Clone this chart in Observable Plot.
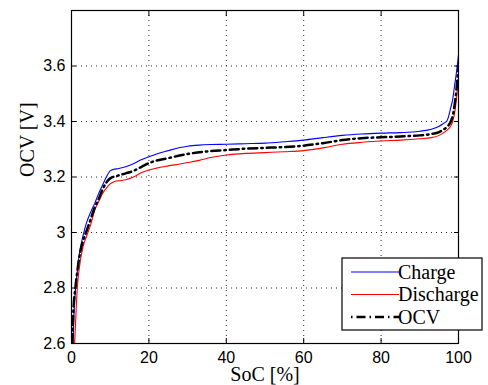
<!DOCTYPE html>
<html><head><meta charset="utf-8">
<script src="https://cdn.jsdelivr.net/npm/d3@7"></script>
<script src="https://cdn.jsdelivr.net/npm/@observablehq/plot@0.6"></script>
<style>body{margin:0;background:#fff}#chart{width:488px;height:385px}</style>
</head><body><div id="chart"></div>
<script>
const chargeSoc = [0.4,0.6,1,1.5,2,3,4,5,6,7,8,9,10,11,12,14,16,18,20,22,25,28,30,33,36,40,45,50,55,60,65,70,75,80,85,88,90,93,95,96,97,98,98.5,99,99.5,100];
const chargeV   = [2.60,2.69,2.79,2.86,2.92,2.99,3.04,3.075,3.105,3.14,3.17,3.20,3.222,3.228,3.230,3.237,3.248,3.262,3.273,3.283,3.295,3.306,3.311,3.315,3.317,3.318,3.320,3.322,3.327,3.333,3.342,3.350,3.355,3.358,3.360,3.362,3.365,3.372,3.383,3.392,3.402,3.45,3.48,3.53,3.58,3.64];
const dischSoc = [0.8,1,1.5,2,3,4,5,6,7,8,9,10,11,12,14,16,18,20,22,25,28,30,33,36,40,45,50,55,60,65,70,75,80,85,90,93,95,96,97,98,98.5,99,99.5,100];
const dischV   = [2.60,2.66,2.80,2.87,2.95,2.99,3.03,3.08,3.11,3.14,3.16,3.175,3.183,3.186,3.190,3.200,3.215,3.225,3.232,3.240,3.247,3.252,3.260,3.270,3.279,3.285,3.288,3.291,3.295,3.305,3.318,3.325,3.330,3.333,3.338,3.342,3.350,3.358,3.368,3.384,3.40,3.43,3.486,3.558];
const ocvSoc = [0.2,0.5,1,1.5,2,3,4,5,6,7,8,9,10,12,14,16,18,20,25,30,35,40,45,50,55,60,65,70,75,80,85,90,93,95,96,97,98,98.5,99,99.5,100];
const ocvV   = [2.60,2.72,2.80,2.86,2.91,2.97,3.01,3.05,3.09,3.12,3.155,3.18,3.195,3.205,3.213,3.222,3.236,3.250,3.268,3.283,3.292,3.297,3.302,3.305,3.308,3.313,3.322,3.333,3.340,3.343,3.346,3.350,3.355,3.362,3.370,3.380,3.40,3.42,3.46,3.52,3.60];
const xTicks = [0,20,40,60,80,100];
const yTicks = [2.6,2.8,3.0,3.2,3.4,3.6];
const yTickLabels = ["2.6","2.8","3","3.2","3.4","3.6"];
const seriesNames = ["Charge","Discharge","OCV"];

const charge = chargeSoc.map((s,i)=>({s, v: chargeV[i]}));
const disch = dischSoc.map((s,i)=>({s, v: dischV[i]}));
const ocv = ocvSoc.map((s,i)=>({s, v: ocvV[i]}));
const grid = {stroke:"#000", strokeOpacity:0.85, strokeDasharray:"1,4"};
const tickFont = {fontSize:16, fontFamily:"Liberation Sans, Arial, sans-serif"};
const serif = "Liberation Serif, Times New Roman, serif";

const chart = Plot.plot({
  width:488, height:385,
  marginLeft:71, marginRight:30, marginTop:10, marginBottom:42,
  style:{background:"#fff", color:"#000", overflow:"visible"},
  x:{domain:[0,100]},
  y:{domain:[2.6,3.8]},
  marks:[
    Plot.gridX(xTicks, grid),
    Plot.gridY(yTicks, grid),
    Plot.line(charge, {x:"s", y:"v", stroke:"#0000ff", strokeWidth:1.1, curve:"monotone-x", clip:true}),
    Plot.line(disch, {x:"s", y:"v", stroke:"#ff0000", strokeWidth:1.1, curve:"monotone-x", clip:true}),
    Plot.line(ocv, {x:"s", y:"v", stroke:"#000", strokeWidth:2.5, strokeDasharray:"9,4,1.5,4", curve:"monotone-x", clip:true}),
    Plot.axisX(xTicks, {anchor:"bottom", tickSize:0, tickPadding:8, label:null, ...tickFont}),
    Plot.axisY(yTicks, {anchor:"left", tickSize:0, tickPadding:6, label:null, tickFormat:(d,i)=>yTickLabels[i], ...tickFont}),
    Plot.axisX(xTicks, {anchor:"bottom", tickSize:-5, tickFormat:()=>"", label:null}),
    Plot.axisX(xTicks, {anchor:"top", tickSize:-5, tickFormat:()=>"", label:null}),
    Plot.axisY(yTicks, {anchor:"left", tickSize:-5, tickFormat:()=>"", label:null}),
    Plot.axisY(yTicks, {anchor:"right", tickSize:-5, tickFormat:()=>"", label:null}),
    Plot.frame({stroke:"#000", strokeWidth:1.2}),
    Plot.text(["SoC [%]"], {frameAnchor:"bottom", dy:31, text:d=>d, fontSize:20, fontFamily:serif, lineAnchor:"middle"}),
    Plot.text(["OCV [V]"], {frameAnchor:"left", dx:-44, rotate:-90, text:d=>d, fontSize:20, fontFamily:serif, lineAnchor:"middle"})
  ]
});
document.getElementById("chart").appendChild(chart);

// legend
const svg = d3.select(chart);
const lg = svg.append("g");
lg.append("rect").attr("x",342).attr("y",258).attr("width",140).attr("height",72)
  .attr("fill","#fff").attr("stroke","#000").attr("stroke-width",1.2);
const styles = [
  {stroke:"#0000ff", w:1.1, dash:null},
  {stroke:"#ff0000", w:1.1, dash:null},
  {stroke:"#000", w:2.5, dash:"1.5,4,9,4"}
];
const rowY = [272, 294.5, 317];
seriesNames.forEach((name,i)=>{
  lg.append("line").attr("x1",351).attr("x2",399).attr("y1",rowY[i]).attr("y2",rowY[i])
    .attr("stroke",styles[i].stroke).attr("stroke-width",styles[i].w)
    .attr("stroke-dasharray",styles[i].dash);
  lg.append("text").attr("x",398).attr("y",rowY[i]).attr("dy","0.33em")
    .attr("text-anchor","start")
    .attr("font-family",serif).attr("font-size",20)
    .attr("fill","#000").text(name);
});
</script></body></html>
